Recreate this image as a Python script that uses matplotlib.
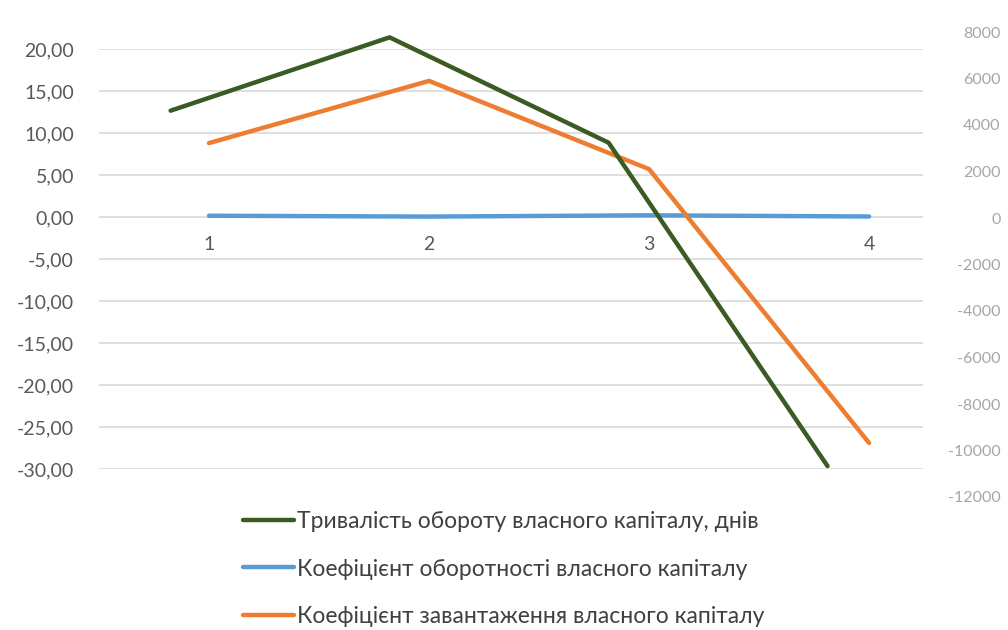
import numpy as np
import matplotlib.pyplot as plt
from matplotlib.ticker import FuncFormatter

# Дані
periods = [1, 2, 3, 4]
duration_days = [4615, 7770, 3240, -10670]       # права вісь
turnover_coef = [0.15, 0.05, 0.20, 0.06]         # ліва вісь
load_coef = [8.8, 16.2, 5.7, -26.9]              # ліва вісь

labels = ["Тривалість обороту власного капіталу, днів",
          "Коефіцієнт оборотності власного капіталу",
          "Коефіцієнт завантаження власного капіталу"]

green = '#3b5b22'
blue = '#5b9bd5'
orange = '#ed7d31'
grid_c = '#d9d9d9'

plt.rcParams['font.family'] = ['Lato', 'DejaVu Sans']
plt.rcParams['axes.unicode_minus'] = False

W, H = 1008, 630
fig = plt.figure(figsize=(W / 100, H / 100), dpi=100)

def px_axes(x0, x1, ytop, ybot):
    return [x0 / W, (H - ybot) / H, (x1 - x0) / W, (ybot - ytop) / H]

# основна вісь
ax = fig.add_axes(px_axes(99, 923, 49, 469))
ax.set_ylim(-30, 20)
ax.set_xlim(0.5, 4.245)
ax.set_yticks(np.arange(-30, 21, 5))
ax.yaxis.set_major_formatter(FuncFormatter(lambda v, p: f"{v:.2f}".replace('.', ',')))
ax.grid(axis='y', color=grid_c, linewidth=1.2)
ax.set_axisbelow(True)
for s in ax.spines.values():
    s.set_visible(False)
ax.spines['bottom'].set_position(('data', 0))
ax.set_xticks(periods)
ax.tick_params(axis='x', length=0, pad=14, labelsize=14, labelcolor='#595959')
ax.tick_params(axis='y', length=0, pad=18, labelsize=14, labelcolor='#595959')

ln_blue, = ax.plot(periods, turnover_coef, color=blue, linewidth=3.2,
                   solid_capstyle='round', solid_joinstyle='round')
ln_orange, = ax.plot(periods, load_coef, color=orange, linewidth=3.2,
                     solid_capstyle='round', solid_joinstyle='round')

# допоміжна вісь (права)
ax2 = fig.add_axes(px_axes(99, 923, 32, 497))
ax2.patch.set_visible(False)
ax2.set_ylim(-12000, 8000)
ax2.set_xlim(0.673, 4.436)
ax2.set_yticks(np.arange(-12000, 8001, 2000))
ax2.set_xticks([])
for s in ax2.spines.values():
    s.set_visible(False)
ax2.yaxis.tick_right()
ax2.tick_params(axis='y', length=0, pad=56, labelsize=11.5, labelcolor='#a6a6a6')
for t in ax2.get_yticklabels():
    t.set_horizontalalignment('right')

ln_green, = ax2.plot(periods, duration_days, color=green, linewidth=3.2,
                     solid_capstyle='round', solid_joinstyle='round', clip_on=False)

fig.legend([ln_green, ln_blue, ln_orange], labels, loc='upper left',
           bbox_to_anchor=(234 / W, 1 - 502 / H), frameon=False,
           fontsize=16.5, labelcolor='#404040', handlelength=2.2,
           handletextpad=0.15, labelspacing=1.15, borderaxespad=0)

fig.savefig('out.png', dpi=100)
